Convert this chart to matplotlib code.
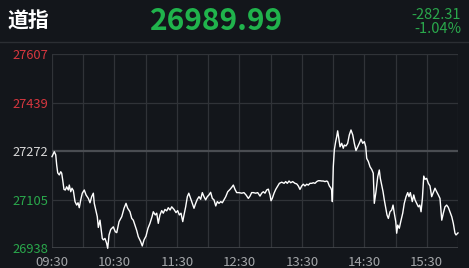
"""
plot.py

Intraday Dow Jones (道指) line chart on a dark background, recreated with matplotlib.
"""

import matplotlib
matplotlib.use("Agg")
import matplotlib.pyplot as plt

# Minutes since 09:30 and index level.
minutes = [
    0, 2.2, 3.6, 4.5, 5.5, 7.0, 8.4, 9.3, 10.3, 11.5, 12.8, 14.1, 15.7, 16.6,
    18.0, 19.2, 20.5, 22.1, 23.7, 25.0, 26.2, 27.6, 29.1, 31.0, 32.7, 34.9,
    36.5, 38.1, 39.7, 40.6, 42.0, 43.5, 44.5, 46.1, 47.1, 48.3, 49.3, 50.9,
    52.5, 53.5, 54.8, 56.4, 58.9, 60.8, 62.2, 64.4, 67.0, 69.2, 71.1, 72.7,
    74.9, 76.6, 78.1, 79.7, 81.4, 82.9, 85.2, 86.7, 88.4, 90.3, 92.2, 94.1,
    96.1, 97.3, 99.2, 100.6, 102.1, 103.7, 105.4, 106.9, 108.5, 110.2, 111.7,
    113.4, 115.0, 117.2, 119.1, 120.7, 122.3, 123.9, 125.6, 126.8, 128.4,
    130.0, 131.4, 132.6, 134.2, 136.4, 138.0, 139.6, 141.2, 142.8, 144.4,
    146.0, 147.6, 149.2, 150.8, 152.4, 154.0, 155.6, 157.3, 158.8, 160.4,
    162.1, 163.6, 165.2, 166.9, 168.8, 171.0, 172.6, 174.2, 175.8, 177.4,
    179.6, 182.2, 184.4, 186.4, 188.6, 190.2, 191.8, 193.4, 195.7, 197.6,
    199.8, 201.4, 203.0, 204.6, 206.2, 207.8, 209.4, 210.4, 211.6, 213.3,
    214.9, 216.4, 218.4, 220.7, 222.9, 224.5, 226.0, 227.7, 229.3, 231.2,
    233.4, 235.1, 236.6, 238.2, 239.9, 241.4, 243.0, 244.7, 246.2, 247.8,
    249.5, 251.0, 252.6, 254.3, 255.8, 257.4, 259.1, 260.6, 262.2, 263.9,
    264.8, 266.4, 268.0, 268.7, 269.3, 270.2, 271.2, 272.5, 273.5, 274.4,
    275.7, 276.7, 278.3, 279.8, 280.8, 282.4, 284.0, 285.6, 287.2, 288.9,
    290.4, 292.0, 293.7, 295.2, 296.8, 298.5, 300.0, 301.4, 302.3, 303.9,
    305.5, 307.1, 308.6, 309.6, 310.3, 311.2, 312.9, 314.4, 315.4, 316.7,
    318.0, 319.2, 320.6, 321.8, 323.1, 324.7, 326.3, 327.6, 328.8, 330.2,
    331.1, 332.1, 333.6, 335.3, 336.9, 338.4, 340.1, 341.7, 342.9, 344.2,
    346.1, 347.5, 348.7, 350.3, 351.9, 353.3, 354.5, 355.8, 357.1, 358.3,
    359.9, 361.5, 363.1, 364.7, 366.3, 367.9, 369.5, 371.1, 372.7, 374.4,
    375.9, 377.5, 379.1, 380.7, 382.3, 384.0, 385.5, 387.1, 388.1, 390.0,
]
levels = [
    27253, 27270, 27259, 27224, 27197, 27190, 27201, 27196, 27172, 27140,
    27138, 27149, 27138, 27155, 27132, 27144, 27136, 27098, 27086, 27094,
    27077, 27104, 27127, 27138, 27121, 27109, 27094, 27115, 27127, 27092,
    27069, 27046, 27009, 27034, 27006, 26971, 26966, 26971, 26954, 26937,
    26983, 27002, 27011, 26994, 26991, 27029, 27046, 27075, 27092, 27075,
    27063, 27040, 27034, 27017, 26998, 26977, 26960, 26945, 26966, 26979,
    27006, 27023, 27046, 27063, 27052, 27058, 27023, 27052, 27067, 27058,
    27071, 27066, 27077, 27069, 27080, 27071, 27060, 27067, 27052, 27058,
    27029, 27052, 27080, 27115, 27127, 27115, 27098, 27075, 27092, 27106,
    27115, 27106, 27129, 27115, 27104, 27115, 27121, 27130, 27109, 27104,
    27083, 27098, 27092, 27098, 27094, 27104, 27115, 27132, 27140, 27147,
    27155, 27140, 27129, 27129, 27127, 27129, 27121, 27109, 27117, 27129,
    27129, 27127, 27129, 27117, 27127, 27132, 27127, 27138, 27141, 27121,
    27101, 27109, 27127, 27140, 27149, 27161, 27165, 27161, 27167, 27161,
    27169, 27163, 27167, 27161, 27159, 27152, 27140, 27152, 27158, 27152,
    27158, 27155, 27161, 27161, 27163, 27161, 27167, 27170, 27170, 27169,
    27169, 27167, 27169, 27167, 27152, 27144, 27136, 27098, 27218, 27276,
    27305, 27322, 27342, 27310, 27287, 27299, 27282, 27293, 27290, 27299,
    27328, 27345, 27328, 27299, 27274, 27287, 27299, 27313, 27299, 27305,
    27287, 27247, 27236, 27218, 27209, 27196, 27092, 27109, 27132, 27184,
    27207, 27178, 27155, 27132, 27104, 27075, 27052, 27040, 27063, 27069,
    27086, 27058, 27029, 26989, 27017, 27006, 27034, 27058, 27092, 27115,
    27129, 27115, 27129, 27098, 27121, 27104, 27092, 27080, 27086, 27063,
    27109, 27186, 27175, 27178, 27161, 27152, 27115, 27129, 27144, 27132,
    27121, 27109, 27034, 27058, 27080, 27086, 27078, 27063, 27046, 27023,
    26989, 26983, 26990,
]

y_ticks = [26938, 27105, 27272, 27439, 27607]
y_tick_labels = ["26938", "27105", "27272", "27439", "27607"]
x_ticks = [0, 60, 120, 180, 240, 300, 360]
x_tick_labels = ["09:30", "10:30", "11:30", "12:30", "13:30", "14:30", "15:30"]

index_name = "道指"
last_price = "26989.99"
change = "-282.31"
change_pct = "-1.04%"

BG = "#13161b"
GRID = "#303338"
RED = "#d7373f"
GREEN = "#2aa84c"
BIG_GREEN = "#20b34c"

plt.rcParams["font.family"] = ["Noto Sans CJK SC", "DejaVu Sans"]

fig = plt.figure(figsize=(4.69, 2.68), dpi=100, facecolor=BG)
ax = fig.add_axes([52 / 469, 20 / 268, 406 / 469, 194 / 268], facecolor=BG)

# Grid: every 30 minutes vertically, at each price tick horizontally.
for m in range(0, 391, 30):
    ax.axvline(m, color=GRID, linewidth=0.9, zorder=1)
for v in y_ticks:
    if v == y_ticks[2]:
        ax.axhline(v, color="#4a4d52", linewidth=1.6, zorder=1)
    elif v == y_ticks[0]:
        ax.axhline(v, color="#44474c", linewidth=1.2, zorder=1)
    else:
        ax.axhline(v, color=GRID, linewidth=0.9, zorder=1)

ax.plot(minutes, levels, color="white", linewidth=1.0, zorder=3, clip_on=False)

ax.set_xlim(0, 390)
ax.set_ylim(y_ticks[0], y_ticks[-1])

for s in ax.spines.values():
    s.set_visible(False)

ax.set_xticks(x_ticks)
ax.set_xticklabels(x_tick_labels, fontsize=9.5, color="#a3a5a8")
ax.set_yticks(y_ticks)
ax.set_yticklabels(y_tick_labels, fontsize=9.3)
ax.tick_params(axis="x", length=0, pad=5.5)
ax.tick_params(axis="y", length=0, pad=2.5)

label_colors = [GREEN, GREEN, "#d8d8d8", RED, RED]
for lbl, c in zip(ax.get_yticklabels(), label_colors):
    lbl.set_color(c)

# Header
fig.add_artist(plt.Line2D([0, 1], [1 - 42 / 268, 1 - 42 / 268],
                          color="#2b2e33", linewidth=1.0))
fig.text(8 / 469, 1 - 21 / 268, index_name, color="white", fontsize=15,
         fontweight="bold", ha="left", va="center")
fig.text(217 / 469, 1 - 21 / 268, last_price, color=BIG_GREEN, fontsize=21.5,
         fontweight="bold", ha="center", va="center")
fig.text(461 / 469, 1 - 19 / 268, change, color=GREEN, fontsize=10.5,
         ha="right", va="baseline")
fig.text(461 / 469, 1 - 33 / 268, change_pct, color=GREEN, fontsize=10.5,
         ha="right", va="baseline")

fig.savefig("out.png", dpi=100, facecolor=BG)
